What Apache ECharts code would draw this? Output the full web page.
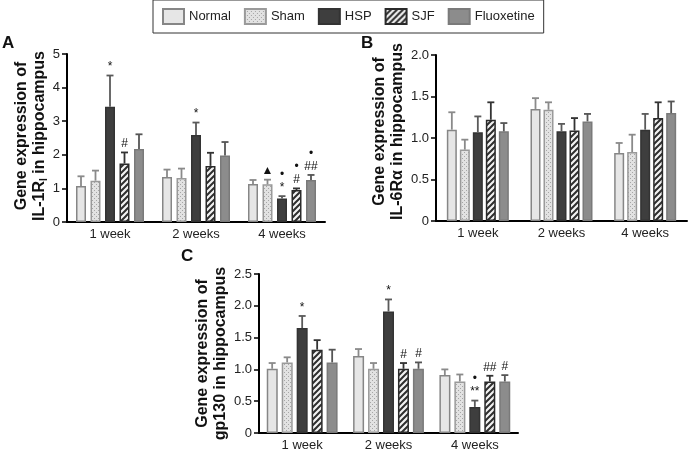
<!DOCTYPE html>
<html><head><meta charset="utf-8">
<script src="https://cdn.jsdelivr.net/npm/echarts@6/dist/echarts.min.js"></script>
<style>html,body{margin:0;padding:0;background:#fff}#c{width:698px;height:453px}</style>
</head><body><div id="c"></div>
<script>
// ---------- data ----------
const groups = ['Normal', 'Sham', 'HSP', 'SJF', 'Fluoxetine'];
const categories = ['1 week', '2 weeks', '4 weeks'];

// Panel A: IL-1RI
const aNormal = [1.07, 1.34, 1.13], aNormalErr = [0.29, 0.22, 0.12];
const aSham   = [1.23, 1.31, 1.12], aShamErr   = [0.30, 0.28, 0.14];
const aHSP    = [3.43, 2.59, 0.70], aHSPErr    = [0.93, 0.37, 0.07];
const aSJF    = [1.74, 1.67, 0.95], aSJFErr    = [0.33, 0.39, 0.05];
const aFlu    = [2.17, 1.98, 1.25], aFluErr    = [0.44, 0.40, 0.15];
const aNormalMark = ['', '', ''], aShamMark = ['', '', '▲'], aHSPMark = ['*', '*', '•\n*'],
      aSJFMark = ['#', '', '•\n#'], aFluMark = ['', '', '•\n##'];
const aTicks = [0, 1, 2, 3, 4, 5];

// Panel B: IL-6Rα
const bNormal = [1.10, 1.35, 0.82], bNormalErr = [0.21, 0.13, 0.12];
const bSham   = [0.86, 1.34, 0.83], bShamErr   = [0.12, 0.09, 0.21];
const bHSP    = [1.07, 1.08, 1.10], bHSPErr    = [0.19, 0.09, 0.19];
const bSJF    = [1.22, 1.09, 1.24], bSJFErr    = [0.21, 0.15, 0.19];
const bFlu    = [1.08, 1.20, 1.30], bFluErr    = [0.10, 0.09, 0.14];
const bTicks = [0, 0.5, 1.0, 1.5, 2.0];

// Panel C: gp130
const cNormal = [1.01, 1.21, 0.91], cNormalErr = [0.09, 0.11, 0.09];
const cSham   = [1.11, 1.01, 0.81], cShamErr   = [0.08, 0.09, 0.11];
const cHSP    = [1.65, 1.91, 0.41], cHSPErr    = [0.19, 0.19, 0.10];
const cSJF    = [1.31, 1.01, 0.81], cSJFErr    = [0.15, 0.09, 0.09];
const cFlu    = [1.11, 1.01, 0.81], cFluErr    = [0.20, 0.10, 0.10];
const cNormalMark = ['', '', ''], cShamMark = ['', '', ''], cHSPMark = ['*', '*', '•\n**'],
      cSJFMark = ['', '#', '##'], cFluMark = ['', '#', '#'];
const cTicks = [0, 0.5, 1.0, 1.5, 2.0, 2.5];

// ---------- styles ----------
function makePattern(kind) {
  const cv = document.createElement('canvas');
  const ctx = cv.getContext('2d');
  if (kind === 'dots') {
    cv.width = 4; cv.height = 4;
    ctx.fillStyle = '#e2e2e2'; ctx.fillRect(0, 0, 4, 4);
    ctx.fillStyle = '#a6a6a6';
    ctx.fillRect(0, 0, 1, 1); ctx.fillRect(2, 2, 1, 1);
  } else {
    cv.width = 6; cv.height = 6;
    ctx.fillStyle = '#f2f2f2'; ctx.fillRect(0, 0, 6, 6);
    ctx.strokeStyle = '#2e2e2e'; ctx.lineWidth = 2;
    ctx.beginPath();
    ctx.moveTo(-1, 7); ctx.lineTo(7, -1);
    ctx.moveTo(-4, 4); ctx.lineTo(4, -4);
    ctx.moveTo(2, 10); ctx.lineTo(10, 2);
    ctx.stroke();
  }
  return { image: cv, repeat: 'repeat' };
}
const fills = ['#e6e6e6', makePattern('dots'), '#3e3e3e', makePattern('hatch'), '#8c8c8c'];
const borders = ['#868686', '#9a9a9a', '#333333', '#2a2a2a', '#7a7a7a'];
const errColors = ['#8a8a8a', '#8a8a8a', '#5a5a5a', '#333333', '#555555'];
const FONT = 'Liberation Sans';

const panels = [
  { vals: [aNormal, aSham, aHSP, aSJF, aFlu], errs: [aNormalErr, aShamErr, aHSPErr, aSJFErr, aFluErr],
    marks: [aNormalMark, aShamMark, aHSPMark, aSJFMark, aFluMark], ticks: aTicks,
    grid: { left: 67, top: 54, width: 258, height: 168 }, barW: 10, gap: 4.5,
    name: 'Gene expression of\nIL-1R{sub|I} in hippocampus', nameGap: 15, namePad: [0, 0, 0, 4] },
  { vals: [bNormal, bSham, bHSP, bSJF, bFlu], errs: [bNormalErr, bShamErr, bHSPErr, bSJFErr, bFluErr],
    marks: null, ticks: bTicks,
    grid: { left: 436, top: 55, width: 251, height: 166 }, barW: 10, gap: 3,
    name: 'Gene expression of\nIL-6Rα in hippocampus', nameGap: 19, namePad: [0, 0, 0, 13] },
  { vals: [cNormal, cSham, cHSP, cSJF, cFlu], errs: [cNormalErr, cShamErr, cHSPErr, cSJFErr, cFluErr],
    marks: [cNormalMark, cShamMark, cHSPMark, cSJFMark, cFluMark], ticks: cTicks,
    grid: { left: 259, top: 274, width: 259, height: 159 }, barW: 11, gap: 4,
    name: 'Gene expression of\ngp130 in hippocampus', nameGap: 25, namePad: [0, 0, 0, 0] }
];

const grids = [], xAxes = [], yAxes = [], series = [];
panels.forEach((p, pi) => {
  grids.push(p.grid);
  xAxes.push({
    type: 'category', gridIndex: pi, data: categories,
    axisLine: { lineStyle: { color: '#000', width: 2 } },
    axisTick: { alignWithLabel: true, length: 5, lineStyle: { color: '#000', width: 2 } },
    axisLabel: { color: '#222', fontSize: 13, fontFamily: FONT, margin: 6 }
  });
  const tmax = p.ticks[p.ticks.length - 1];
  const step = p.ticks[1] - p.ticks[0];
  yAxes.push({
    type: 'value', gridIndex: pi, min: p.ticks[0], max: tmax, interval: step,
    axisLine: { show: true, lineStyle: { color: '#000', width: 2 } },
    axisTick: { show: true, length: 5, lineStyle: { color: '#000', width: 1.5 } },
    splitLine: { show: false },
    axisLabel: { color: '#222', fontSize: 13, fontFamily: FONT, margin: 7,
      formatter: v => v === 0 ? '0' : (step < 1 ? v.toFixed(1) : String(v)) },
    name: p.name, nameLocation: 'middle', nameRotate: 90, nameGap: p.nameGap,
    nameTextStyle: { fontSize: 16, fontWeight: 'bold', fontFamily: FONT, color: '#111',
      lineHeight: 18, padding: p.namePad,
      rich: { sub: { fontSize: 10, fontWeight: 'bold', fontFamily: FONT, color: '#111', padding: [8, 0, 0, 0] } } }
  });
  const gapPct = Math.round(p.gap / p.barW * 100) + '%';
  groups.forEach((g, gi) => {
    series.push({
      type: 'bar', name: g, xAxisIndex: pi, yAxisIndex: pi, data: p.vals[gi],
      barWidth: p.barW, barGap: gapPct,
      itemStyle: { color: fills[gi], borderColor: borders[gi], borderWidth: 1.5 },
      emphasis: { disabled: true }
    });
  });
  const errData = [];
  groups.forEach((g, gi) => {
    categories.forEach((c, ci) => {
      errData.push([ci, gi, p.vals[gi][ci], p.errs[gi][ci]]);
    });
  });
  series.push({
    type: 'custom', xAxisIndex: pi, yAxisIndex: pi, data: errData, z: 5, clip: false,
    silent: true,
    encode: { x: 0, y: 2 },
    renderItem: (params, api) => {
      const ci = api.value(0), gi = api.value(1), v = api.value(2), e = api.value(3);
      const off = (gi - 2) * (p.barW + p.gap);
      const b = api.coord([ci, v]);
      const t = api.coord([ci, v + e]);
      const x = b[0] + off;
      const col = errColors[gi];
      const children = [
        { type: 'line', shape: { x1: x, y1: b[1], x2: x, y2: t[1] }, style: { stroke: col, lineWidth: 1.8 } },
        { type: 'line', shape: { x1: x - 3.5, y1: t[1], x2: x + 3.5, y2: t[1] }, style: { stroke: col, lineWidth: 1.8 } }
      ];
      const mk = p.marks ? p.marks[gi][ci] : '';
      if (mk) {
        children.push({ type: 'text', x: x, y: t[1] - 2,
          style: { text: mk, fontSize: 12, fontFamily: FONT, fill: '#111', align: 'center',
            verticalAlign: 'bottom', lineHeight: 13 } });
      }
      return { type: 'group', children };
    }
  });
});

const chart = echarts.init(document.getElementById('c'), null, { renderer: 'canvas' });
chart.setOption({
  animation: false,
  backgroundColor: '#fff',
  legend: {
    data: groups, left: 153, top: 0, padding: [8, 9, 8, 9],
    itemWidth: 21, itemHeight: 15, itemGap: 13,
    borderColor: '#333', borderWidth: 1, icon: 'rect',
    textStyle: { fontSize: 13, fontFamily: FONT, color: '#222' }
  },
  grid: grids, xAxis: xAxes, yAxis: yAxes, series,
  graphic: [
    { type: 'text', left: 2, top: 35, style: { text: 'A', fontSize: 17, fontWeight: 'bold', fontFamily: FONT, fill: '#111' } },
    { type: 'text', left: 361, top: 35, style: { text: 'B', fontSize: 17, fontWeight: 'bold', fontFamily: FONT, fill: '#111' } },
    { type: 'text', left: 181, top: 248, style: { text: 'C', fontSize: 17, fontWeight: 'bold', fontFamily: FONT, fill: '#111' } }
  ]
});
</script></body></html>
